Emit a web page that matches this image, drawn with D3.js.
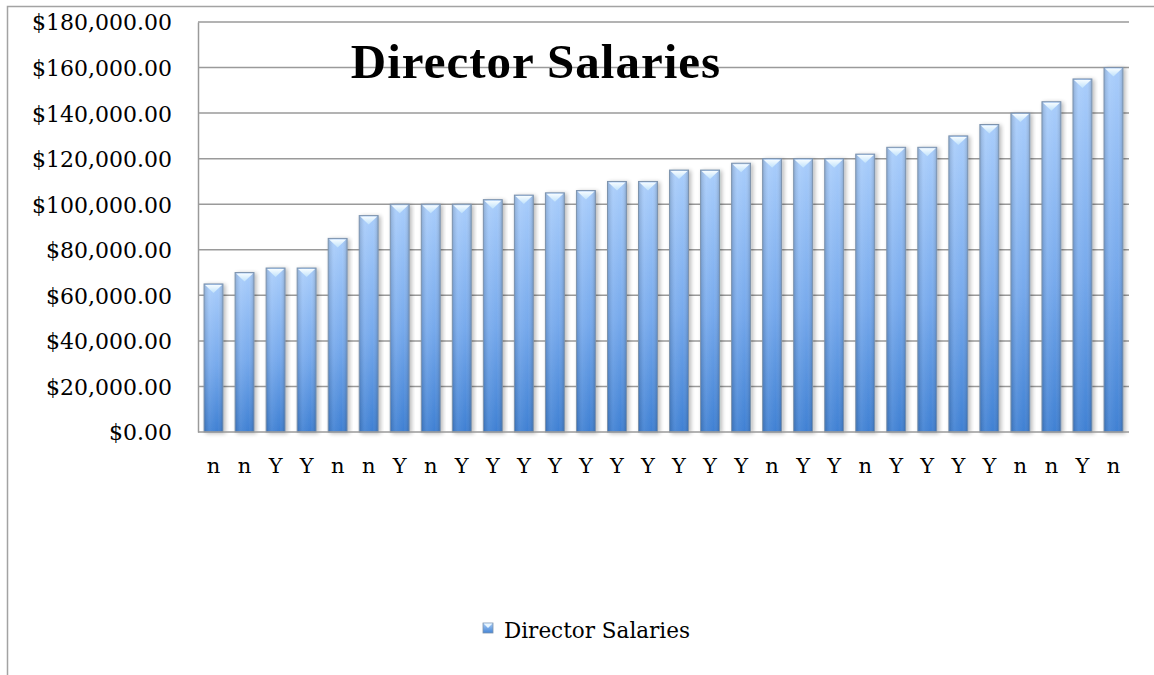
<!DOCTYPE html>
<html>
<head>
<meta charset="utf-8">
<script src="https://cdn.jsdelivr.net/npm/d3@7"></script>
<style>
  html, body { margin: 0; padding: 0; background: #fff; }
  svg { display: block; }
</style>
</head>
<body>
<svg id="chart" width="1154" height="675"></svg>
<script>
// ---- data ----
const categories = ["n","n","Y","Y","n","n","Y","n","Y","Y","Y","Y","Y","Y","Y","Y","Y","Y","n","Y","Y","n","Y","Y","Y","Y","n","n","Y","n"];
const salaries = [65000,70000,72000,72000,85000,95000,100000,100000,100000,102000,104000,105000,106000,110000,110000,115000,115000,118000,120000,120000,120000,122000,125000,125000,130000,135000,140000,145000,155000,160000];
const yTicks = [0,20000,40000,60000,80000,100000,120000,140000,160000,180000];
const seriesName = "Director Salaries";
const chartTitle = "Director Salaries";

// ---- layout ----
const svg = d3.select("#chart");
const plot = { left: 198, right: 1129, top: 22, bottom: 432 };
const serif = "'DejaVu Serif', serif";

const x = d3.scaleBand()
  .domain(d3.range(categories.length))
  .range([plot.left, plot.right])
  .paddingInner(0.39)
  .paddingOuter(0.195);

const y = d3.scaleLinear().domain([0, 180000]).range([plot.bottom, plot.top]);

// defs: gradients
const defs = svg.append("defs");
const vg = defs.append("linearGradient").attr("id", "barV")
  .attr("x1", 0).attr("y1", 0).attr("x2", 0).attr("y2", 1);
vg.append("stop").attr("offset", "0%").attr("stop-color", "#a9cdfb");
vg.append("stop").attr("offset", "55%").attr("stop-color", "#76a9ec");
vg.append("stop").attr("offset", "100%").attr("stop-color", "#3f80d3");

const hg = defs.append("linearGradient").attr("id", "barH")
  .attr("x1", 0).attr("y1", 0).attr("x2", 1).attr("y2", 0);
hg.append("stop").attr("offset", "0%").attr("stop-color", "#000").attr("stop-opacity", 0.16);
hg.append("stop").attr("offset", "30%").attr("stop-color", "#fff").attr("stop-opacity", 0.08);
hg.append("stop").attr("offset", "70%").attr("stop-color", "#fff").attr("stop-opacity", 0.0);
hg.append("stop").attr("offset", "100%").attr("stop-color", "#000").attr("stop-opacity", 0.18);

const capG = defs.append("linearGradient").attr("id", "cap")
  .attr("x1", 0).attr("y1", 0).attr("x2", 0).attr("y2", 1);
capG.append("stop").attr("offset", "0%").attr("stop-color", "#f6fcff");
capG.append("stop").attr("offset", "100%").attr("stop-color", "#c0e2fb");

const lg = defs.append("linearGradient").attr("id", "legG")
  .attr("x1", 0).attr("y1", 0).attr("x2", 0).attr("y2", 1);
lg.append("stop").attr("offset", "0%").attr("stop-color", "#a8ccf6");
lg.append("stop").attr("offset", "100%").attr("stop-color", "#4585d6");

const shadow = defs.append("filter").attr("id", "shadow")
  .attr("x", "-30%").attr("y", "-10%").attr("width", "160%").attr("height", "120%");
shadow.append("feGaussianBlur").attr("in", "SourceAlpha").attr("stdDeviation", 2.2).attr("result", "b");
shadow.append("feOffset").attr("in", "b").attr("dx", 2).attr("dy", 1).attr("result", "o");
shadow.append("feComponentTransfer").attr("in", "o").attr("result", "s")
  .append("feFuncA").attr("type", "linear").attr("slope", 0.28);
const fm = shadow.append("feMerge");
fm.append("feMergeNode").attr("in", "s");
fm.append("feMergeNode").attr("in", "SourceGraphic");

// outer chart border
svg.append("path")
  .attr("d", "M7.5,675 L7.5,6.5 L1154,6.5")
  .attr("fill", "none").attr("stroke", "#a3a3a3").attr("stroke-width", 1.5);

// gridlines
svg.append("g").selectAll("line").data(yTicks.filter(d => d > 0)).join("line")
  .attr("x1", plot.left).attr("x2", plot.right)
  .attr("y1", d => y(d)).attr("y2", d => y(d))
  .attr("stroke", "#9a9a9a").attr("stroke-width", 1.5);

// y axis
const yAxis = svg.append("g")
  .attr("transform", `translate(${plot.left},0)`)
  .call(d3.axisLeft(y).tickValues(yTicks).tickSize(0).tickPadding(26)
    .tickFormat(d => "$" + d3.format(",.2f")(d)));
yAxis.select(".domain").attr("stroke", "#9a9a9a").attr("stroke-width", 1.5);
yAxis.selectAll("text")
  .attr("font-family", serif).attr("font-size", 22).attr("fill", "#000")
  .attr("dy", "0.36em");

// bars
const bars = svg.append("g").selectAll("g").data(salaries).join("g")
  .attr("filter", "url(#shadow)");
bars.append("rect")
  .attr("x", (d, i) => x(i)).attr("y", d => y(d))
  .attr("width", x.bandwidth()).attr("height", d => y(0) - y(d))
  .attr("fill", "url(#barV)");
bars.append("rect")
  .attr("x", (d, i) => x(i)).attr("y", d => y(d))
  .attr("width", x.bandwidth()).attr("height", d => y(0) - y(d))
  .attr("fill", "url(#barH)")
  .attr("stroke", "#7d93ad").attr("stroke-width", 1);
bars.append("path")
  .attr("d", (d, i) => {
    const x0 = x(i) + 1, x1 = x(i) + x.bandwidth() - 1, yt = y(d) + 1;
    const xm = (x0 + x1) / 2;
    return `M${x0},${yt} L${x1},${yt} L${xm},${yt + 8} Z`;
  })
  .attr("fill", "url(#cap)");

// x axis line
svg.append("line")
  .attr("x1", plot.left).attr("x2", plot.right)
  .attr("y1", plot.bottom).attr("y2", plot.bottom)
  .attr("stroke", "#9a9a9a").attr("stroke-width", 1.5);

// x labels
svg.append("g").selectAll("text").data(categories).join("text")
  .attr("x", (d, i) => x(i) + x.bandwidth() / 2)
  .attr("y", 473)
  .attr("text-anchor", "middle")
  .attr("font-family", serif).attr("font-size", 21).attr("fill", "#000")
  .text(d => d);

// title
svg.append("text")
  .attr("x", 536).attr("y", 78)
  .attr("text-anchor", "middle")
  .attr("font-family", "'Liberation Serif', serif").attr("font-weight", "bold")
  .attr("font-size", 49).attr("letter-spacing", 1).attr("fill", "#000")
  .text(chartTitle);

// legend
const leg = svg.append("g");
leg.append("rect").attr("x", 483).attr("y", 623).attr("width", 10).attr("height", 10)
  .attr("fill", "url(#legG)").attr("stroke", "#7d93ad").attr("stroke-width", 0.8);
leg.append("path").attr("d", "M483.5,623.5 L492.5,623.5 L488,628 Z").attr("fill", "#e8f6ff");
leg.append("text").attr("x", 504).attr("y", 638)
  .attr("font-family", serif).attr("font-size", 21.5).attr("fill", "#000")
  .text(seriesName);
</script>
</body>
</html>
